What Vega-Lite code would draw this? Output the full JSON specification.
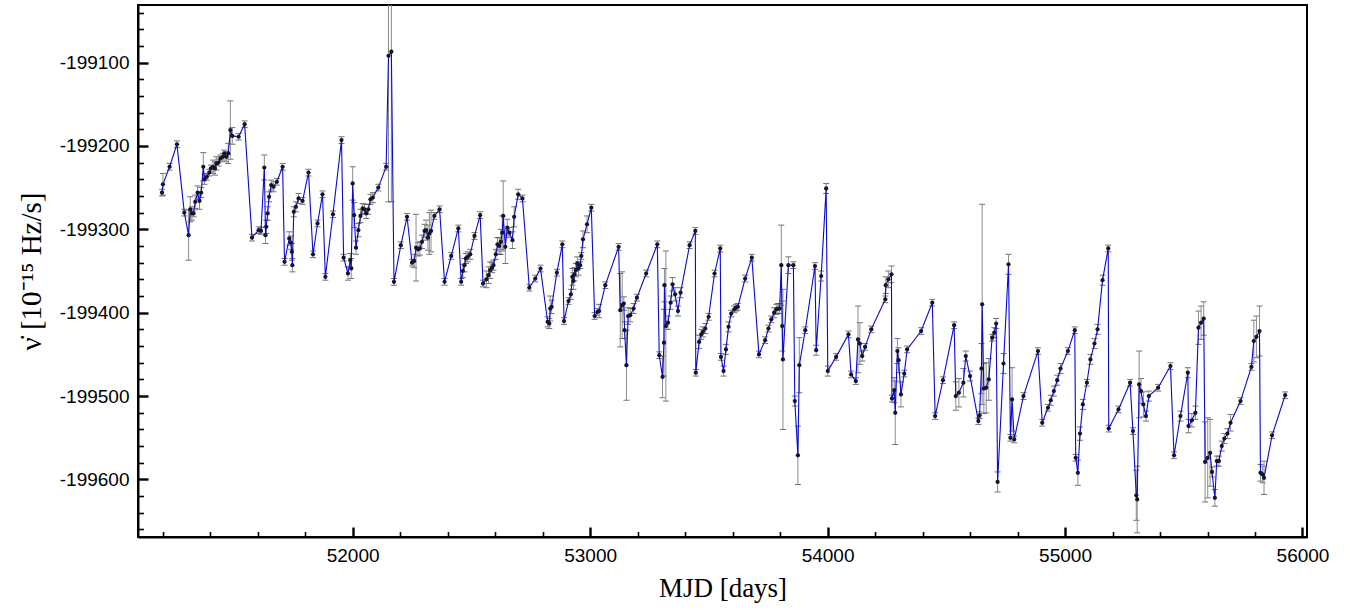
{
"$schema": "https://vega.github.io/schema/vega-lite/v6.json",
"width": 1169, "height": 532,
"autosize": {"type": "none"},
"padding": {"left": 138, "top": 5, "right": 51, "bottom": 73},
"background": "white",
"data": {"values": [
{"x":51197,"y":-199256,"e":4},{"x":51201,"y":-199246,"e":13},{"x":51229,"y":-199225,"e":4},{"x":51260,"y":-199198,"e":4},{"x":51291,"y":-199280,"e":4},{"x":51309,"y":-199307,"e":30},{"x":51316,"y":-199276,"e":15},{"x":51323,"y":-199281,"e":8},{"x":51330,"y":-199281,"e":4},{"x":51337,"y":-199267,"e":8},{"x":51347,"y":-199256,"e":8},{"x":51355,"y":-199266,"e":10},{"x":51362,"y":-199256,"e":6},{"x":51371,"y":-199225,"e":17},{"x":51376,"y":-199240,"e":6},{"x":51386,"y":-199237,"e":4},{"x":51396,"y":-199232,"e":4},{"x":51403,"y":-199227,"e":4},{"x":51412,"y":-199225,"e":8},{"x":51420,"y":-199227,"e":8},{"x":51426,"y":-199221,"e":8},{"x":51435,"y":-199220,"e":4},{"x":51443,"y":-199215,"e":4},{"x":51454,"y":-199213,"e":4},{"x":51459,"y":-199209,"e":4},{"x":51468,"y":-199213,"e":6},{"x":51476,"y":-199209,"e":12},{"x":51485,"y":-199181,"e":35},{"x":51493,"y":-199188,"e":10},{"x":51520,"y":-199189,"e":4},{"x":51545,"y":-199174,"e":4},{"x":51576,"y":-199310,"e":4},{"x":51604,"y":-199301,"e":4},{"x":51614,"y":-199302,"e":4},{"x":51628,"y":-199226,"e":15},{"x":51633,"y":-199307,"e":10},{"x":51636,"y":-199297,"e":8},{"x":51642,"y":-199281,"e":8},{"x":51648,"y":-199261,"e":6},{"x":51657,"y":-199247,"e":6},{"x":51667,"y":-199249,"e":6},{"x":51681,"y":-199243,"e":4},{"x":51705,"y":-199225,"e":4},{"x":51713,"y":-199339,"e":4},
{"x":51733,"y":-199311,"e":8},{"x":51740,"y":-199316,"e":8},{"x":51744,"y":-199327,"e":10},{"x":51746,"y":-199343,"e":8},{"x":51752,"y":-199279,"e":6},{"x":51761,"y":-199273,"e":6},{"x":51772,"y":-199263,"e":6},{"x":51789,"y":-199266,"e":4},{"x":51814,"y":-199232,"e":4},{"x":51833,"y":-199330,"e":4},{"x":51852,"y":-199293,"e":4},{"x":51873,"y":-199258,"e":4},{"x":51885,"y":-199357,"e":4},{"x":51917,"y":-199282,"e":4},{"x":51953,"y":-199193,"e":4},{"x":51962,"y":-199334,"e":4},{"x":51980,"y":-199353,"e":8},{"x":51990,"y":-199337,"e":8},{"x":51994,"y":-199347,"e":12},{"x":52000,"y":-199245,"e":20},{"x":52006,"y":-199283,"e":15},{"x":52014,"y":-199322,"e":8},{"x":52024,"y":-199301,"e":8},{"x":52033,"y":-199284,"e":8},{"x":52042,"y":-199275,"e":6},{"x":52050,"y":-199276,"e":6},{"x":52057,"y":-199281,"e":6},{"x":52066,"y":-199276,"e":6},{"x":52075,"y":-199264,"e":6},{"x":52085,"y":-199262,"e":6},{"x":52108,"y":-199250,"e":4},{"x":52141,"y":-199225,"e":4},{"x":52151,"y":-199092,"e":175},{"x":52163,"y":-199087,"e":180},{"x":52174,"y":-199363,"e":4},{"x":52203,"y":-199319,"e":4},{"x":52229,"y":-199285,"e":4},{"x":52250,"y":-199340,"e":4},{"x":52259,"y":-199338,"e":8},{"x":52267,"y":-199322,"e":40},{"x":52275,"y":-199324,"e":8},{"x":52283,"y":-199323,"e":8},{"x":52292,"y":-199315,"e":8},{"x":52303,"y":-199302,"e":8},{"x":52309,"y":-199301,"e":12},{"x":52317,"y":-199310,"e":15},{"x":52323,"y":-199305,"e":25},{"x":52330,"y":-199302,"e":25},{"x":52344,"y":-199284,"e":4},
{"x":52366,"y":-199276,"e":4},{"x":52387,"y":-199363,"e":4},{"x":52415,"y":-199332,"e":4},{"x":52445,"y":-199299,"e":4},{"x":52457,"y":-199363,"e":4},{"x":52464,"y":-199350,"e":8},{"x":52471,"y":-199343,"e":8},{"x":52477,"y":-199335,"e":6},{"x":52485,"y":-199333,"e":6},{"x":52495,"y":-199330,"e":6},{"x":52513,"y":-199308,"e":4},{"x":52537,"y":-199283,"e":4},{"x":52549,"y":-199365,"e":4},{"x":52563,"y":-199360,"e":10},{"x":52572,"y":-199355,"e":10},{"x":52579,"y":-199349,"e":10},{"x":52587,"y":-199346,"e":6},{"x":52593,"y":-199343,"e":6},{"x":52603,"y":-199330,"e":6},{"x":52610,"y":-199318,"e":8},{"x":52617,"y":-199320,"e":10},{"x":52624,"y":-199315,"e":15},{"x":52630,"y":-199304,"e":20},{"x":52634,"y":-199284,"e":42},{"x":52643,"y":-199321,"e":20},{"x":52651,"y":-199298,"e":10},{"x":52660,"y":-199304,"e":6},{"x":52673,"y":-199313,"e":10},{"x":52680,"y":-199285,"e":12},{"x":52697,"y":-199258,"e":6},{"x":52715,"y":-199263,"e":4},{"x":52744,"y":-199370,"e":4},{"x":52769,"y":-199359,"e":4},{"x":52791,"y":-199347,"e":4},{"x":52821,"y":-199411,"e":6},{"x":52828,"y":-199413,"e":6},{"x":52832,"y":-199395,"e":15},{"x":52838,"y":-199393,"e":8},{"x":52860,"y":-199352,"e":4},{"x":52883,"y":-199318,"e":4},{"x":52890,"y":-199410,"e":4},{"x":52909,"y":-199386,"e":4},{"x":52919,"y":-199378,"e":6},{"x":52925,"y":-199357,"e":10},{"x":52930,"y":-199362,"e":10},{"x":52934,"y":-199354,"e":8},{"x":52940,"y":-199349,"e":8},{"x":52946,"y":-199341,"e":8},{"x":52951,"y":-199347,"e":8},{"x":52958,"y":-199343,"e":4},
{"x":52963,"y":-199332,"e":4},{"x":52970,"y":-199312,"e":10},{"x":52987,"y":-199294,"e":10},{"x":53005,"y":-199274,"e":4},{"x":53019,"y":-199404,"e":4},{"x":53031,"y":-199399,"e":4},{"x":53038,"y":-199398,"e":8},{"x":53064,"y":-199367,"e":4},{"x":53120,"y":-199321,"e":4},{"x":53127,"y":-199397,"e":44},{"x":53135,"y":-199391,"e":40},{"x":53142,"y":-199389,"e":8},{"x":53145,"y":-199421,"e":10},{"x":53153,"y":-199463,"e":42},{"x":53160,"y":-199404,"e":10},{"x":53169,"y":-199403,"e":8},{"x":53183,"y":-199395,"e":6},{"x":53197,"y":-199382,"e":4},{"x":53236,"y":-199353,"e":4},{"x":53283,"y":-199318,"e":4},{"x":53291,"y":-199451,"e":4},{"x":53305,"y":-199477,"e":25},{"x":53311,"y":-199436,"e":40},{"x":53313,"y":-199367,"e":20},{"x":53319,"y":-199416,"e":90},{"x":53328,"y":-199412,"e":8},{"x":53339,"y":-199388,"e":8},{"x":53347,"y":-199366,"e":8},{"x":53358,"y":-199378,"e":8},{"x":53370,"y":-199398,"e":6},{"x":53381,"y":-199376,"e":6},{"x":53419,"y":-199319,"e":4},{"x":53443,"y":-199302,"e":4},{"x":53445,"y":-199472,"e":4},{"x":53459,"y":-199435,"e":8},{"x":53468,"y":-199426,"e":6},{"x":53475,"y":-199423,"e":6},{"x":53485,"y":-199419,"e":6},{"x":53499,"y":-199405,"e":4},{"x":53524,"y":-199353,"e":4},{"x":53548,"y":-199323,"e":4},{"x":53551,"y":-199453,"e":4},{"x":53562,"y":-199470,"e":6},
{"x":53572,"y":-199444,"e":6},{"x":53583,"y":-199417,"e":6},{"x":53594,"y":-199401,"e":4},{"x":53607,"y":-199396,"e":4},{"x":53614,"y":-199394,"e":4},{"x":53622,"y":-199393,"e":4},{"x":53653,"y":-199359,"e":4},{"x":53681,"y":-199334,"e":4},{"x":53711,"y":-199450,"e":4},{"x":53737,"y":-199433,"e":4},{"x":53751,"y":-199419,"e":4},{"x":53763,"y":-199408,"e":4},{"x":53775,"y":-199400,"e":6},{"x":53784,"y":-199396,"e":6},{"x":53791,"y":-199395,"e":6},{"x":53798,"y":-199395,"e":6},{"x":53805,"y":-199343,"e":48},{"x":53809,"y":-199416,"e":30},{"x":53812,"y":-199456,"e":84},{"x":53835,"y":-199343,"e":10},{"x":53856,"y":-199343,"e":4},{"x":53862,"y":-199506,"e":6},{"x":53875,"y":-199571,"e":35},{"x":53881,"y":-199463,"e":33},{"x":53906,"y":-199421,"e":4},{"x":53947,"y":-199344,"e":4},{"x":53952,"y":-199445,"e":6},{"x":53973,"y":-199356,"e":6},{"x":53994,"y":-199251,"e":6},{"x":54001,"y":-199470,"e":6},{"x":54036,"y":-199453,"e":4},{"x":54088,"y":-199426,"e":4},{"x":54099,"y":-199474,"e":4},{"x":54119,"y":-199482,"e":4},{"x":54128,"y":-199432,"e":40},{"x":54136,"y":-199437,"e":25},{"x":54146,"y":-199452,"e":6},{"x":54158,"y":-199441,"e":4},{"x":54184,"y":-199420,"e":4},
{"x":54243,"y":-199384,"e":4},{"x":54245,"y":-199367,"e":10},{"x":54256,"y":-199360,"e":10},{"x":54269,"y":-199354,"e":10},{"x":54271,"y":-199503,"e":4},{"x":54281,"y":-199493,"e":15},{"x":54285,"y":-199520,"e":38},{"x":54294,"y":-199446,"e":15},{"x":54299,"y":-199457,"e":15},{"x":54309,"y":-199498,"e":15},{"x":54323,"y":-199473,"e":4},{"x":54335,"y":-199444,"e":4},{"x":54394,"y":-199422,"e":4},{"x":54441,"y":-199388,"e":4},{"x":54453,"y":-199524,"e":4},{"x":54486,"y":-199481,"e":4},{"x":54533,"y":-199415,"e":4},{"x":54540,"y":-199500,"e":17},{"x":54553,"y":-199496,"e":17},{"x":54572,"y":-199484,"e":17},{"x":54582,"y":-199452,"e":6},{"x":54600,"y":-199476,"e":6},{"x":54635,"y":-199530,"e":4},{"x":54640,"y":-199523,"e":4},{"x":54648,"y":-199467,"e":30},{"x":54651,"y":-199390,"e":120},{"x":54658,"y":-199491,"e":30},{"x":54668,"y":-199490,"e":30},{"x":54679,"y":-199480,"e":25},{"x":54693,"y":-199430,"e":4},{"x":54702,"y":-199424,"e":6},{"x":54710,"y":-199413,"e":6},{"x":54716,"y":-199603,"e":12},{"x":54741,"y":-199461,"e":12},{"x":54762,"y":-199342,"e":12},{"x":54770,"y":-199550,"e":4},{"x":54777,"y":-199504,"e":38},{"x":54786,"y":-199552,"e":4},
{"x":54825,"y":-199500,"e":4},{"x":54886,"y":-199446,"e":4},{"x":54904,"y":-199532,"e":4},{"x":54928,"y":-199514,"e":4},{"x":54940,"y":-199505,"e":6},{"x":54953,"y":-199494,"e":6},{"x":54967,"y":-199481,"e":6},{"x":54981,"y":-199467,"e":6},{"x":55012,"y":-199446,"e":4},{"x":55041,"y":-199421,"e":4},{"x":55045,"y":-199574,"e":4},{"x":55054,"y":-199592,"e":15},{"x":55063,"y":-199545,"e":8},{"x":55075,"y":-199510,"e":6},{"x":55092,"y":-199484,"e":4},{"x":55107,"y":-199456,"e":6},{"x":55124,"y":-199437,"e":6},{"x":55137,"y":-199420,"e":6},{"x":55158,"y":-199361,"e":6},{"x":55182,"y":-199323,"e":4},{"x":55184,"y":-199539,"e":4},{"x":55225,"y":-199516,"e":4},{"x":55274,"y":-199484,"e":4},{"x":55286,"y":-199542,"e":4},{"x":55300,"y":-199619,"e":30},{"x":55304,"y":-199624,"e":40},{"x":55312,"y":-199486,"e":40},{"x":55320,"y":-199494,"e":15},{"x":55330,"y":-199510,"e":15},{"x":55341,"y":-199524,"e":6},{"x":55353,"y":-199500,"e":6},{"x":55392,"y":-199490,"e":4},
{"x":55444,"y":-199464,"e":4},{"x":55459,"y":-199571,"e":4},{"x":55486,"y":-199524,"e":6},{"x":55517,"y":-199472,"e":6},{"x":55520,"y":-199536,"e":8},{"x":55534,"y":-199529,"e":8},{"x":55549,"y":-199520,"e":8},{"x":55562,"y":-199418,"e":20},{"x":55573,"y":-199412,"e":20},{"x":55584,"y":-199407,"e":20},{"x":55590,"y":-199579,"e":48},{"x":55601,"y":-199574,"e":48},{"x":55611,"y":-199568,"e":40},{"x":55619,"y":-199591,"e":6},{"x":55631,"y":-199622,"e":10},{"x":55639,"y":-199578,"e":6},{"x":55648,"y":-199578,"e":6},{"x":55660,"y":-199560,"e":6},{"x":55671,"y":-199551,"e":6},{"x":55684,"y":-199545,"e":6},{"x":55697,"y":-199532,"e":10},{"x":55739,"y":-199506,"e":4},{"x":55785,"y":-199465,"e":4},{"x":55795,"y":-199434,"e":25},{"x":55806,"y":-199429,"e":25},{"x":55819,"y":-199422,"e":30},{"x":55823,"y":-199592,"e":10},{"x":55832,"y":-199594,"e":10},{"x":55838,"y":-199598,"e":20},{"x":55872,"y":-199547,"e":4},{"x":55927,"y":-199499,"e":4}
]},
"encoding": {
  "x": {"field": "x", "type": "quantitative",
    "scale": {"domain": [51096, 56019], "nice": false, "zero": false},
    "axis": {
      "title": "MJD [days]",
      "values": [51200,51400,51600,51800,52000,52200,52400,52600,52800,53000,53200,53400,53600,53800,54000,54200,54400,54600,54800,55000,55200,55400,55600,55800,56000],
      "labelExpr": "datum.value % 1000 === 0 ? toString(datum.value) : ''",
      "tickSize": {"condition": {"test": "datum.value % 1000 === 0", "value": -10}, "value": -5.5},
      "tickWidth": {"condition": {"test": "datum.value % 1000 === 0", "value": 2.4}, "value": 1.6},
      "labelPadding": 19,
      "titlePadding": 6
    }},
  "y": {"field": "y", "type": "quantitative",
    "scale": {"domain": [-199669, -199031], "nice": false, "zero": false},
    "axis": {
      "title": "ν̇ [10⁻¹⁵ Hz/s]",
      "values": [-199660,-199640,-199620,-199600,-199580,-199560,-199540,-199520,-199500,-199480,-199460,-199440,-199420,-199400,-199380,-199360,-199340,-199320,-199300,-199280,-199260,-199240,-199220,-199200,-199180,-199160,-199140,-199120,-199100,-199080,-199060,-199040],
      "labelExpr": "datum.value % 100 === 0 ? toString(datum.value) : ''",
      "tickSize": {"condition": {"test": "datum.value % 100 === 0", "value": -10}, "value": -5.5},
      "tickWidth": {"condition": {"test": "datum.value % 100 === 0", "value": 2.4}, "value": 1.6},
      "labelPadding": 19,
      "titlePadding": 13,
      "titleFontSize": 29
    }}
},
"layer": [
  {"mark": {"type": "errorbar", "ticks": {"size": 6, "color": "#333333", "clip": true}, "rule": {"color": "#8c8c8c", "strokeWidth": 1, "clip": true}},
   "encoding": {"yError": {"field": "e"}}},
  {"mark": {"type": "line", "color": "#0a0ad2", "strokeWidth": 1.1, "clip": true}},
  {"mark": {"type": "circle", "size": 18, "color": "#15152a", "opacity": 1, "clip": true}}
],
"config": {
  "view": {"stroke": "black", "strokeWidth": 2},
  "axis": {"grid": false, "domainColor": "black", "domainWidth": 2, "tickColor": "black", "labelColor": "black", "titleColor": "black",
    "labelFont": "Liberation Sans", "labelFontSize": 19, "titleFont": "Liberation Serif", "titleFontSize": 27, "titleFontWeight": "normal",
    "labelOverlap": false, "labelFlush": false, "labelBound": false}
}
}
